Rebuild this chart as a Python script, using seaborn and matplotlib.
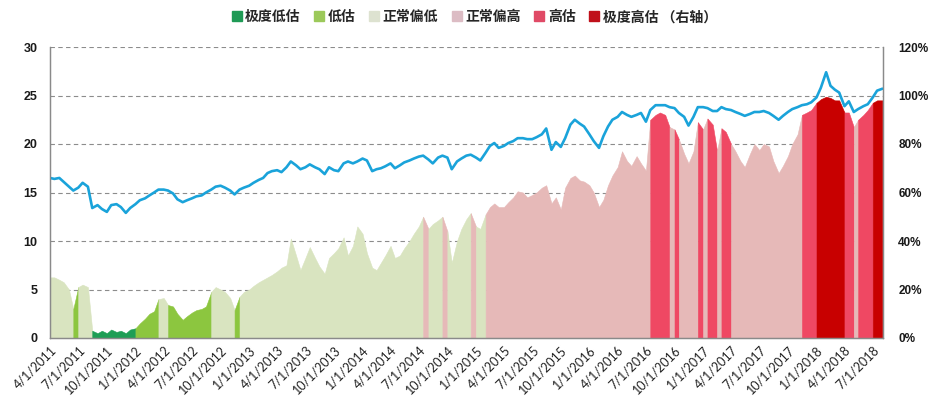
import numpy as np
import pandas as pd
import matplotlib
matplotlib.use("Agg")
import matplotlib.pyplot as plt
import matplotlib.dates as mdates
from matplotlib.lines import Line2D
import seaborn as sns

# ---------------- data (semi-monthly readings) ----------------
start_date = "2011-04-01"
end_date = "2018-08-01"

pe = [16.5, 16.4, 16.5, 16.1, 15.6, 15.2, 15.5, 16.0, 15.6, 13.4,
      13.7, 13.3, 13.0, 13.7, 13.8, 13.5, 12.9, 13.4, 13.8, 14.2,
      14.4, 14.7, 15.0, 15.3, 15.3, 15.2, 14.9, 14.3, 14.0, 14.2,
      14.4, 14.6, 14.7, 15.0, 15.3, 15.6, 15.7, 15.5, 15.2, 14.8,
      15.3, 15.5, 15.7, 16.0, 16.3, 16.5, 17.0, 17.2, 17.3, 17.1,
      17.6, 18.2, 17.8, 17.4, 17.6, 17.9, 17.6, 17.4, 16.9, 17.6,
      17.3, 17.2, 18.0, 18.2, 18.0, 18.2, 18.5, 18.3, 17.2, 17.4,
      17.5, 17.7, 18.0, 17.5, 17.8, 18.1, 18.3, 18.5, 18.7, 18.8,
      18.4, 18.0, 18.6, 18.8, 18.6, 17.4, 18.2, 18.5, 18.8, 18.9,
      18.6, 18.3, 19.1, 19.8, 20.1, 19.6, 19.8, 20.1, 20.3, 20.6,
      20.6, 20.5, 20.5, 20.7, 21.0, 21.6, 19.4, 20.2, 19.7, 20.6,
      22.0, 22.5, 22.1, 21.8, 21.0, 20.3, 19.6, 20.8, 21.8, 22.5,
      22.8, 23.3, 23.0, 22.8, 23.0, 23.2, 22.3, 23.5, 24.0, 24.0,
      24.0, 23.8, 23.7, 23.2, 22.8, 21.9, 22.8, 23.8, 23.8, 23.7,
      23.4, 23.4, 23.8, 23.6, 23.5, 23.3, 23.1, 22.9, 23.1, 23.3,
      23.3, 23.4, 23.2, 22.9, 22.5, 22.9, 23.3, 23.6, 23.8, 24.0,
      24.1, 24.3, 24.8, 25.8, 27.4, 26.0, 25.6, 25.3, 23.9, 24.4,
      23.3, 23.6, 23.9, 24.1, 24.8, 25.5, 25.7]

pct = [25, 25, 24, 23, 20, 12, 21, 22, 21, 3,
       2, 3, 2, 3.5, 2.5, 3, 2, 3.5, 4, 6,
       8, 10, 11, 16, 16.5, 13.6, 13, 10, 7.5, 9,
       10.5, 11.5, 12, 13, 19, 21, 20, 19, 16.5, 11.5,
       17, 19, 20, 21.5, 23, 24, 25, 26, 27.5, 29,
       30, 41, 34, 28, 33, 37.5, 33, 29.5, 26.5, 33,
       35, 37, 41.5, 34, 38, 46, 43, 35, 29, 28,
       31, 34, 38, 33, 34, 37, 40, 43, 46, 50,
       45, 47, 48.5, 50, 44, 31, 40, 45, 49, 51.5,
       46, 45, 51, 54, 55.5, 54, 54, 56, 58, 60.5,
       60, 58, 59, 60, 62, 63, 55.5, 58, 53, 62,
       66, 67, 65, 64.5, 63, 60, 54, 57, 63, 67,
       70.5, 77, 73, 71, 75, 72, 69, 90, 92, 93,
       92, 87, 86, 82, 76, 72, 77, 89, 86, 90.5,
       88, 77, 86.5, 85, 80, 77, 73, 70.5, 76, 80,
       77.5, 80, 79, 73, 68, 71, 75, 80, 84, 92,
       93, 94, 97, 98.5, 99.5, 99, 98, 98, 93, 93,
       87, 90, 92, 94, 97, 98, 98]

# 0 极度低估, 1 低估, 2 正常偏低, 3 正常偏高, 4 高估, 5 极度高估
category = [2, 2, 2, 2, 2, 1, 2, 2, 2, 0,
            0, 0, 0, 0, 0, 0, 0, 0, 1, 1,
            1, 1, 1, 2, 2, 1, 1, 1, 1, 1,
            1, 1, 1, 1, 2, 2, 2, 2, 2, 1,
            2, 2, 2, 2, 2, 2, 2, 2, 2, 2,
            2, 2, 2, 2, 2, 2, 2, 2, 2, 2,
            2, 2, 2, 2, 2, 2, 2, 2, 2, 2,
            2, 2, 2, 2, 2, 2, 2, 2, 2, 3,
            2, 2, 2, 3, 2, 2, 2, 2, 2, 3,
            2, 2, 3, 3, 3, 3, 3, 3, 3, 3,
            3, 3, 3, 3, 3, 3, 3, 3, 3, 3,
            3, 3, 3, 3, 3, 3, 3, 3, 3, 3,
            3, 3, 3, 3, 3, 3, 3, 4, 4, 4,
            4, 3, 4, 3, 3, 3, 3, 4, 3, 4,
            4, 3, 4, 4, 3, 3, 3, 3, 3, 3,
            3, 3, 3, 3, 3, 3, 3, 3, 3, 4,
            4, 4, 5, 5, 5, 5, 5, 5, 4, 4,
            3, 4, 4, 4, 5, 5, 5]

legend_labels = ["极度低估", "低估", "正常偏低", "正常偏高", "高估", "极度高估 （右轴）"]
cat_colors = ["#1e9e55", "#8cc63f", "#d9e4c0", "#e6b9b8", "#ef4863", "#c80000"]
legend_colors = ["#1f9a55", "#9cc95a", "#dde2d0", "#dcbcc4", "#e04a66", "#c0101a"]

left_ticks = [0, 5, 10, 15, 20, 25, 30]
right_ticks = [0, 0.2, 0.4, 0.6, 0.8, 1.0, 1.2]
right_labels = ["0%", "20%", "40%", "60%", "80%", "100%", "120%"]
x_labels = ["4/1/2011", "7/1/2011", "10/1/2011",
            "1/1/2012", "4/1/2012", "7/1/2012", "10/1/2012",
            "1/1/2013", "4/1/2013", "7/1/2013", "10/1/2013",
            "1/1/2014", "4/1/2014", "7/1/2014", "10/1/2014",
            "1/1/2015", "4/1/2015", "7/1/2015", "10/1/2015",
            "1/1/2016", "4/1/2016", "7/1/2016", "10/1/2016",
            "1/1/2017", "4/1/2017", "7/1/2017", "10/1/2017",
            "1/1/2018", "4/1/2018", "7/1/2018"]

# ---------------- build frame ----------------
dates = pd.date_range(start_date, end_date, freq="SMS")
df = pd.DataFrame({"date": dates, "pe": pe, "pct": np.array(pct) / 100.0,
                   "cat": category})

sns.set_style("white")
plt.rcParams["font.family"] = ["Liberation Sans", "DejaVu Sans"]

fig = plt.figure(figsize=(9.32, 4.08), dpi=100)
ax = fig.add_axes([50 / 932, 1 - 338 / 408, 833 / 932, 291 / 408])
ax2 = ax.twinx()

# ---- area (right axis), one polygon per contiguous category run ----
xnum = mdates.date2num(df["date"])
yv = df["pct"].to_numpy()
cv = df["cat"].to_numpy()
n = len(cv)
i = 0
while i < n:
    j = i
    while j + 1 < n and cv[j + 1] == cv[i]:
        j += 1
    end = min(j + 2, n)
    ax2.fill_between(xnum[i:end], 0, yv[i:end], color=cat_colors[cv[i]],
                     linewidth=0.4, edgecolor=cat_colors[cv[i]], zorder=2)
    i = j + 1

ax2.set_ylim(0, 1.2)
ax2.set_yticks(right_ticks)
ax2.set_yticklabels(right_labels)
ax2.yaxis.grid(True, linestyle=(0, (4, 3)), color="#8c8c8c", linewidth=0.8)
ax2.set_axisbelow(True)

# ---- PE line (left axis) ----
sns.lineplot(data=df, x="date", y="pe", ax=ax, color="#1aa3da", linewidth=1.9)
ax.set_zorder(ax2.get_zorder() + 1)
ax.patch.set_visible(False)
ax.set_ylim(0, 30)
ax.set_yticks(left_ticks)
ax.set_xlim(mdates.date2num(pd.Timestamp(start_date)),
            mdates.date2num(pd.Timestamp(end_date)) + 2)
ax.set_xlabel("")
ax.set_ylabel("")

tick_pos = pd.to_datetime(x_labels, format="%m/%d/%Y")
ax.set_xticks(mdates.date2num(tick_pos))
ax.set_xticklabels(x_labels, rotation=45, ha="right", rotation_mode="anchor",
                   fontsize=9, family=["Lato", "DejaVu Sans"], color="#222222")
ax.tick_params(axis="x", direction="in", length=3, color="#9a9a9a", pad=4)
ax.tick_params(axis="y", length=0, pad=9)
ax2.tick_params(axis="y", length=0, pad=11)
for lab in ax.get_yticklabels():
    lab.set_fontweight("bold")
    lab.set_fontsize(9)
    lab.set_color("#1a1a1a")
for lab in ax2.get_yticklabels():
    lab.set_fontweight("bold")
    lab.set_fontsize(8.5)
    lab.set_color("#1a1a1a")

for a in (ax, ax2):
    a.spines["top"].set_visible(False)
    for s in ("left", "right", "bottom"):
        a.spines[s].set_color("#8a8a8a")
        a.spines[s].set_linewidth(0.9)

# ---- legend ----
handles = [Line2D([0], [0], marker="s", linestyle="none", markersize=7,
                  markerfacecolor=c, markeredgecolor=c) for c in legend_colors]
fig.legend(handles, legend_labels, loc="center", bbox_to_anchor=(0.509, 0.958),
           ncol=6, frameon=False, handlelength=0.7, handletextpad=0.25,
           columnspacing=1.0,
           prop={"family": ["Noto Sans CJK SC", "DejaVu Sans"],
                 "weight": "bold", "size": 10})

fig.savefig("out.png", dpi=100, facecolor="white")
